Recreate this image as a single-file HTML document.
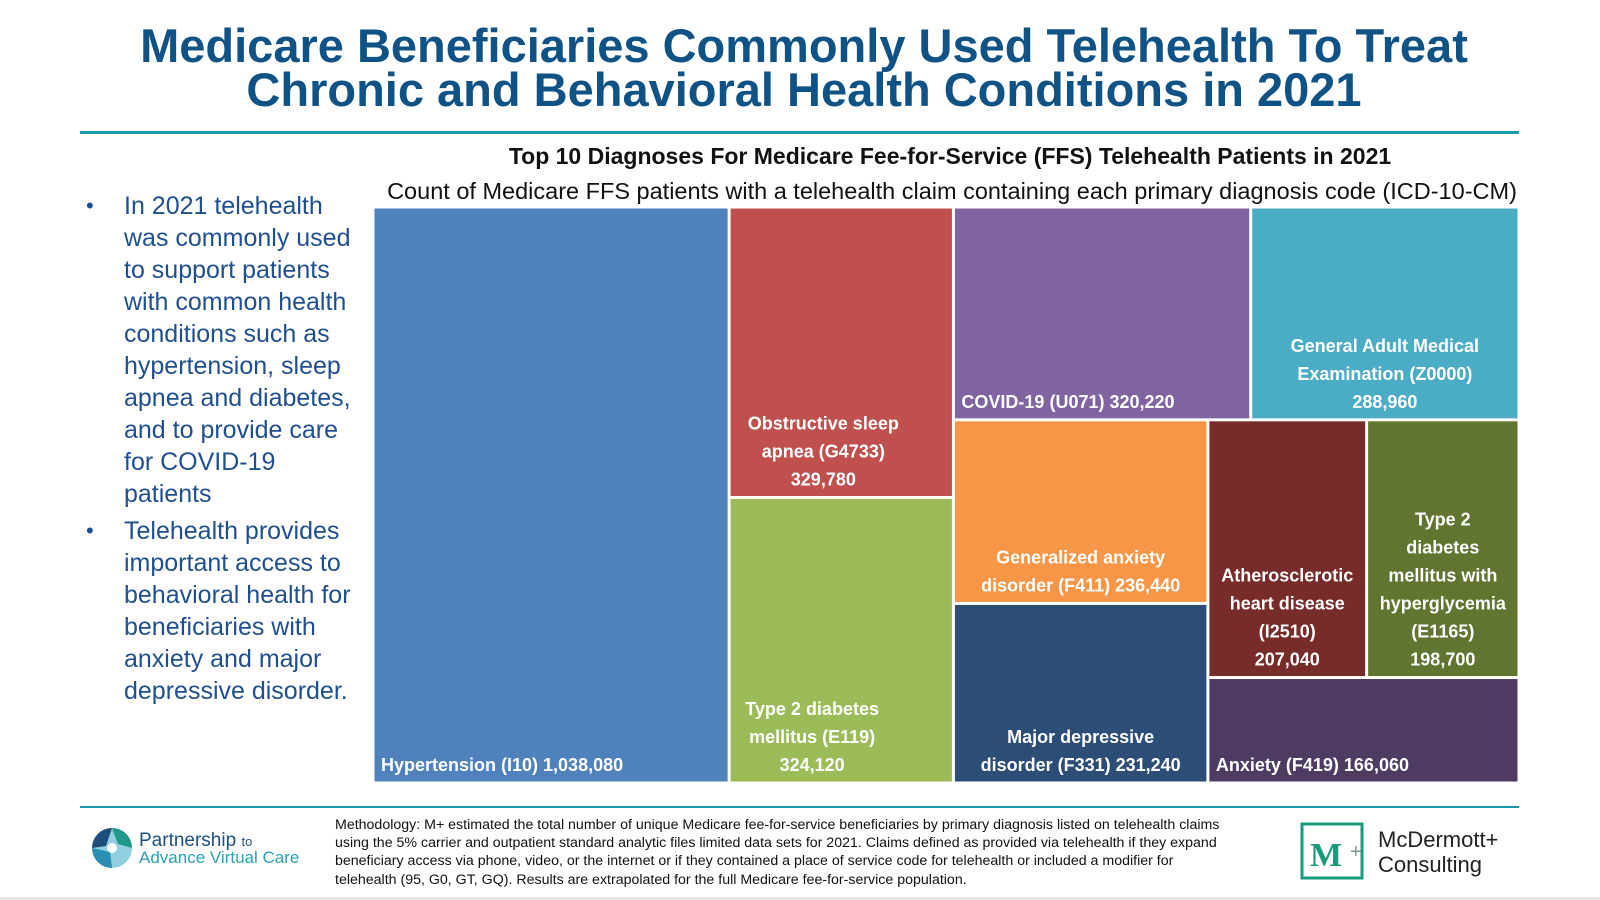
<!DOCTYPE html>
<html><head><meta charset="utf-8">
<style>
html,body{margin:0;padding:0;background:#fff;}
body{width:1600px;height:900px;position:relative;overflow:hidden;font-family:"Liberation Sans",Arial,sans-serif;}
.title{position:absolute;left:0;width:1608px;top:24px;text-align:center;color:#0f5286;font-weight:bold;font-size:47px;line-height:44px;}
.rule{position:absolute;left:80px;width:1439px;height:3px;background:#1a9bad;}
.bullets{position:absolute;left:86px;top:190px;width:282px;color:#1f4f8f;font-size:25px;line-height:32px;margin:0;padding:0;list-style:none;}
.bullets li{position:relative;padding-left:38px;margin-bottom:5px;}
.bullets li:before{content:"•";position:absolute;left:0;top:0;font-size:22px;}
.method{position:absolute;left:335px;top:816px;width:900px;font-size:14.2px;line-height:18.2px;color:#111;}
</style></head>
<body>
<div class="title">Medicare Beneficiaries Commonly Used Telehealth To Treat<br>Chronic and Behavioral Health Conditions in 2021</div>
<div class="rule" style="top:131px"></div>
<ul class="bullets">
<li>In 2021 telehealth was commonly used to support patients with common health conditions such as hypertension, sleep apnea and diabetes, and to provide care for COVID-19 patients</li>
<li>Telehealth provides important access to behavioral health for beneficiaries with anxiety and major depressive disorder.</li>
</ul>
<svg id="chart" width="1600" height="900" style="position:absolute;left:0;top:0">
<text x="950" y="164" text-anchor="middle" font-size="23" font-weight="bold" fill="#111">Top 10 Diagnoses For Medicare Fee-for-Service (FFS) Telehealth Patients in 2021</text>
<text x="952" y="199" text-anchor="middle" font-size="23.5" fill="#111">Count of Medicare FFS patients with a telehealth claim containing each primary diagnosis code (ICD-10-CM)</text>
<g id="tiles"></g>
</svg>
<div class="rule" style="top:806px;height:2px"></div>
<svg width="240" height="60" style="position:absolute;left:88px;top:820px">
<circle cx="24" cy="28" r="20" fill="#8fcfdf"/>
<path d="M24 8 A20 20 0 0 0 4 28 L18 26 Z" fill="#1d4f7c"/>
<path d="M24 8 A20 20 0 0 1 44 28 L30 24 Z" fill="#1f9a8a"/>
<path d="M4 28 A20 20 0 0 0 24 48 L22 32 Z" fill="#2a8fb0"/>
<circle cx="24" cy="28" r="5" fill="#fff"/>
<text x="51" y="26" font-size="19" fill="#1d4f7c">Partnership <tspan font-size="13">to</tspan></text>
<text x="51" y="43" font-size="17" fill="#2aa0b5">Advance Virtual Care</text>
</svg>
<div class="method">Methodology: M+ estimated the total number of unique Medicare fee-for-service beneficiaries by primary diagnosis listed on telehealth claims using the 5% carrier and outpatient standard analytic files limited data sets for 2021. Claims defined as provided via telehealth if they expand beneficiary access via phone, video, or the internet or if they contained a place of service code for telehealth or included a modifier for telehealth (95, G0, GT, GQ). Results are extrapolated for the full Medicare fee-for-service population.</div>
<svg width="230" height="64" style="position:absolute;left:1300px;top:822px">
<rect x="2" y="2" width="60" height="54" fill="none" stroke="#1a9a7a" stroke-width="3"/>
<text x="10" y="44" font-size="34" font-weight="bold" fill="#1a9a7a" font-family="Liberation Serif,serif">M</text>
<text x="50" y="36" font-size="20" fill="#7a9a8a">+</text>
<text x="78" y="25" font-size="22" fill="#222">McDermott+</text>
<text x="78" y="50" font-size="22" fill="#222">Consulting</text>
</svg>
<div style="position:absolute;left:0;top:897px;width:1600px;height:3px;background:#e6e6e6"></div>
<script>
const categories = ["Hypertension (I10)","Obstructive sleep apnea  (G4733)","Type 2 diabetes mellitus (E119)","COVID-19 (U071)","General Adult Medical Examination (Z0000)","Generalized anxiety disorder (F411)","Major depressive disorder (F331)","Atherosclerotic heart disease (I2510)","Type 2 diabetes mellitus with hyperglycemia (E1165)","Anxiety (F419)"];
const values = [1038080,329780,324120,320220,288960,236440,231240,207040,198700,166060];
const valueLabels = ["1,038,080","329,780","324,120","320,220","288,960","236,440","231,240","207,040","198,700","166,060"];
const labelLines = [
  ["Hypertension (I10)  1,038,080"],
  ["Obstructive sleep","apnea  (G4733)","329,780"],
  ["Type 2 diabetes","mellitus (E119)","324,120"],
  ["COVID-19 (U071)  320,220"],
  ["General Adult Medical","Examination (Z0000)","288,960"],
  ["Generalized anxiety","disorder (F411)  236,440"],
  ["Major depressive","disorder (F331)  231,240"],
  ["Atherosclerotic","heart disease","(I2510)","207,040"],
  ["Type 2","diabetes","mellitus with","hyperglycemia","(E1165)","198,700"],
  ["Anxiety (F419)  166,060"]
];
const colors=["#4f81bd","#c0504d","#9bbb59","#8064a2","#4bacc6","#f79646","#2c4d75","#772c2a","#5f7530","#4d3b62"];
const anchorFrac=[null,0.42,0.37,null,0.5,0.5,0.5,0.5,0.5,null];
const tree={d:"h",c:[0,{d:"v",c:[1,2]},{d:"v",c:[{d:"h",c:[3,4]},{d:"h",c:[{d:"v",c:[5,6]},{d:"v",c:[{d:"h",c:[7,8]},9]}]}]}]};
const area={x:373,y:207,w:1146,h:576};
function sum(n){return typeof n==="number"?values[n]:n.c.reduce((a,b)=>a+sum(b),0);}
const rects=[];
function layout(n,x,y,w,h){
  if(typeof n==="number"){rects[n]={x,y,w,h};return;}
  const t=sum(n);let off=0;
  n.c.forEach(ch=>{const f=sum(ch)/t;
    if(n.d==="h"){layout(ch,x+off,y,w*f,h);off+=w*f;}
    else{layout(ch,x,y+off,w,h*f);off+=h*f;}});
}
layout(tree,area.x,area.y,area.w,area.h);
const g=document.getElementById("tiles");
const NS="http://www.w3.org/2000/svg";
rects.forEach((r,i)=>{
  const rect=document.createElementNS(NS,"rect");
  rect.setAttribute("x",r.x+1.5);rect.setAttribute("y",r.y+1.5);
  rect.setAttribute("width",Math.max(0,r.w-3));rect.setAttribute("height",Math.max(0,r.h-3));
  rect.setAttribute("fill",colors[i]);
  
  
  g.appendChild(rect);
  const lines=labelLines[i];
  const t=document.createElementNS(NS,"text");
  t.setAttribute("font-size","18");t.setAttribute("font-weight","bold");t.setAttribute("fill","#fff");
  let ax,anchor;
  if(anchorFrac[i]===null){ax=r.x+8;anchor="start";}else{ax=r.x+r.w*anchorFrac[i];anchor="middle";}
  t.setAttribute("text-anchor",anchor);
  
  
  const lh=28, base=r.y+r.h-12;
  lines.forEach((ln,k)=>{const ts=document.createElementNS(NS,"tspan");
    ts.setAttribute("x",ax);ts.setAttribute("y",base-(lines.length-1-k)*lh);ts.textContent=ln;t.appendChild(ts);});
  g.appendChild(t);
});
</script>
</body></html>
